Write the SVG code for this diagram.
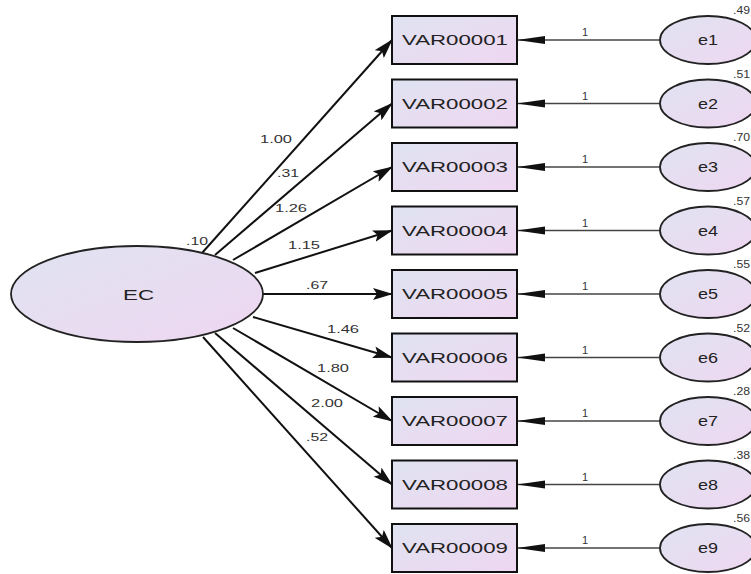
<svg xmlns="http://www.w3.org/2000/svg" width="751" height="574" viewBox="0 0 751 574">
<style>
.box{stroke:#111;stroke-width:2;fill:url(#g)}
.ell{stroke:#222;stroke-width:1.8;fill:url(#g)}
.t{font-family:"Liberation Sans",Arial,sans-serif;fill:#222}
.v{font-size:14px}
.s{font-size:11px;fill:#333}
.c{stroke:#111;stroke-width:2;fill:none;marker-end:url(#ah)}
.r{stroke:#444;stroke-width:1.6;fill:none;marker-end:url(#ah2)}
</style>
<defs>
<linearGradient id="g" x1="0" y1="0" x2="1" y2="1">
<stop offset="0" stop-color="#dfe3f1"/>
<stop offset="1" stop-color="#efd7f1"/>
</linearGradient>
<marker id="ah" markerUnits="userSpaceOnUse" markerWidth="20" markerHeight="12" refX="19" refY="6" orient="auto" viewBox="0 0 20 12">
<path d="M0,0 L20,6 L0,12 L4,6 z" fill="#111"/>
</marker>
<marker id="ah2" markerUnits="userSpaceOnUse" markerWidth="28" markerHeight="10" refX="27" refY="5" orient="auto" viewBox="0 0 28 10">
<path d="M0,1 L28,5 L0,9 z" fill="#111"/>
</marker>
</defs>
<rect width="751" height="574" fill="#fff"/>
<g id="connectors">
<line class="c" x1="202" y1="253" x2="392" y2="40"/>
<line class="c" x1="215" y1="255" x2="392" y2="103.5"/>
<line class="c" x1="233" y1="260" x2="392" y2="167"/>
<line class="c" x1="255" y1="273" x2="392" y2="230.5"/>
<line class="c" x1="263" y1="294" x2="392" y2="294"/>
<line class="c" x1="253" y1="317" x2="392" y2="357.5"/>
<line class="c" x1="233" y1="328" x2="392" y2="421"/>
<line class="c" x1="215" y1="333" x2="392" y2="484.5"/>
<line class="c" x1="203" y1="337" x2="392" y2="548"/>
<line class="r" x1="660" y1="40" x2="518" y2="40"/>
<line class="r" x1="660" y1="103.5" x2="518" y2="103.5"/>
<line class="r" x1="660" y1="167" x2="518" y2="167"/>
<line class="r" x1="660" y1="230.5" x2="518" y2="230.5"/>
<line class="r" x1="660" y1="294" x2="518" y2="294"/>
<line class="r" x1="660" y1="357.5" x2="518" y2="357.5"/>
<line class="r" x1="660" y1="421" x2="518" y2="421"/>
<line class="r" x1="660" y1="484.5" x2="518" y2="484.5"/>
<line class="r" x1="660" y1="548" x2="518" y2="548"/>
<g class="t s">
<text x="260" y="143" textLength="32" lengthAdjust="spacingAndGlyphs">1.00</text>
<text x="277" y="177" textLength="22" lengthAdjust="spacingAndGlyphs">.31</text>
<text x="275" y="212" textLength="32" lengthAdjust="spacingAndGlyphs">1.26</text>
<text x="288" y="249" textLength="32" lengthAdjust="spacingAndGlyphs">1.15</text>
<text x="306" y="289" textLength="22" lengthAdjust="spacingAndGlyphs">.67</text>
<text x="327" y="333" textLength="32" lengthAdjust="spacingAndGlyphs">1.46</text>
<text x="317" y="372" textLength="32" lengthAdjust="spacingAndGlyphs">1.80</text>
<text x="311" y="407" textLength="32" lengthAdjust="spacingAndGlyphs">2.00</text>
<text x="306" y="441" textLength="22" lengthAdjust="spacingAndGlyphs">.52</text>
<text x="582" y="36">1</text>
<text x="582" y="99.5">1</text>
<text x="582" y="163">1</text>
<text x="582" y="226.5">1</text>
<text x="582" y="290">1</text>
<text x="582" y="353.5">1</text>
<text x="582" y="417">1</text>
<text x="582" y="480.5">1</text>
<text x="582" y="544">1</text>
</g>
</g>
<g id="EC">
<ellipse class="ell" cx="137" cy="294" rx="126" ry="48"/>
<text class="t v" x="123" y="300" textLength="31" lengthAdjust="spacingAndGlyphs">EC</text>
<text class="t s" x="186" y="245" textLength="22" lengthAdjust="spacingAndGlyphs">.10</text>
</g>
<g id="VAR00001"><rect class="box" x="392" y="16" width="125" height="48"/><text class="t v" x="402" y="45" textLength="106" lengthAdjust="spacingAndGlyphs">VAR00001</text></g>
<g id="VAR00002"><rect class="box" x="392" y="79.5" width="125" height="48"/><text class="t v" x="402" y="108.5" textLength="106" lengthAdjust="spacingAndGlyphs">VAR00002</text></g>
<g id="VAR00003"><rect class="box" x="392" y="143" width="125" height="48"/><text class="t v" x="402" y="172" textLength="106" lengthAdjust="spacingAndGlyphs">VAR00003</text></g>
<g id="VAR00004"><rect class="box" x="392" y="206.5" width="125" height="48"/><text class="t v" x="402" y="235.5" textLength="106" lengthAdjust="spacingAndGlyphs">VAR00004</text></g>
<g id="VAR00005"><rect class="box" x="392" y="270" width="125" height="48"/><text class="t v" x="402" y="299" textLength="106" lengthAdjust="spacingAndGlyphs">VAR00005</text></g>
<g id="VAR00006"><rect class="box" x="392" y="333.5" width="125" height="48"/><text class="t v" x="402" y="362.5" textLength="106" lengthAdjust="spacingAndGlyphs">VAR00006</text></g>
<g id="VAR00007"><rect class="box" x="392" y="397" width="125" height="48"/><text class="t v" x="402" y="426" textLength="106" lengthAdjust="spacingAndGlyphs">VAR00007</text></g>
<g id="VAR00008"><rect class="box" x="392" y="460.5" width="125" height="48"/><text class="t v" x="402" y="489.5" textLength="106" lengthAdjust="spacingAndGlyphs">VAR00008</text></g>
<g id="VAR00009"><rect class="box" x="392" y="524" width="125" height="48"/><text class="t v" x="402" y="553" textLength="106" lengthAdjust="spacingAndGlyphs">VAR00009</text></g>
<g id="e1"><ellipse class="ell" cx="708" cy="40" rx="48" ry="24"/><text class="t v" x="698" y="45" textLength="20" lengthAdjust="spacingAndGlyphs">e1</text><text class="t s" x="733" y="14" textLength="17" lengthAdjust="spacingAndGlyphs">.49</text></g>
<g id="e2"><ellipse class="ell" cx="708" cy="103.5" rx="48" ry="24"/><text class="t v" x="698" y="108.5" textLength="20" lengthAdjust="spacingAndGlyphs">e2</text><text class="t s" x="733" y="77.5" textLength="17" lengthAdjust="spacingAndGlyphs">.51</text></g>
<g id="e3"><ellipse class="ell" cx="708" cy="167" rx="48" ry="24"/><text class="t v" x="698" y="172" textLength="20" lengthAdjust="spacingAndGlyphs">e3</text><text class="t s" x="733" y="141" textLength="17" lengthAdjust="spacingAndGlyphs">.70</text></g>
<g id="e4"><ellipse class="ell" cx="708" cy="230.5" rx="48" ry="24"/><text class="t v" x="698" y="235.5" textLength="20" lengthAdjust="spacingAndGlyphs">e4</text><text class="t s" x="733" y="204.5" textLength="17" lengthAdjust="spacingAndGlyphs">.57</text></g>
<g id="e5"><ellipse class="ell" cx="708" cy="294" rx="48" ry="24"/><text class="t v" x="698" y="299" textLength="20" lengthAdjust="spacingAndGlyphs">e5</text><text class="t s" x="733" y="268" textLength="17" lengthAdjust="spacingAndGlyphs">.55</text></g>
<g id="e6"><ellipse class="ell" cx="708" cy="357.5" rx="48" ry="24"/><text class="t v" x="698" y="362.5" textLength="20" lengthAdjust="spacingAndGlyphs">e6</text><text class="t s" x="733" y="331.5" textLength="17" lengthAdjust="spacingAndGlyphs">.52</text></g>
<g id="e7"><ellipse class="ell" cx="708" cy="421" rx="48" ry="24"/><text class="t v" x="698" y="426" textLength="20" lengthAdjust="spacingAndGlyphs">e7</text><text class="t s" x="733" y="395" textLength="17" lengthAdjust="spacingAndGlyphs">.28</text></g>
<g id="e8"><ellipse class="ell" cx="708" cy="484.5" rx="48" ry="24"/><text class="t v" x="698" y="489.5" textLength="20" lengthAdjust="spacingAndGlyphs">e8</text><text class="t s" x="733" y="458.5" textLength="17" lengthAdjust="spacingAndGlyphs">.38</text></g>
<g id="e9"><ellipse class="ell" cx="708" cy="548" rx="48" ry="24"/><text class="t v" x="698" y="553" textLength="20" lengthAdjust="spacingAndGlyphs">e9</text><text class="t s" x="733" y="522" textLength="17" lengthAdjust="spacingAndGlyphs">.56</text></g>
</svg>
